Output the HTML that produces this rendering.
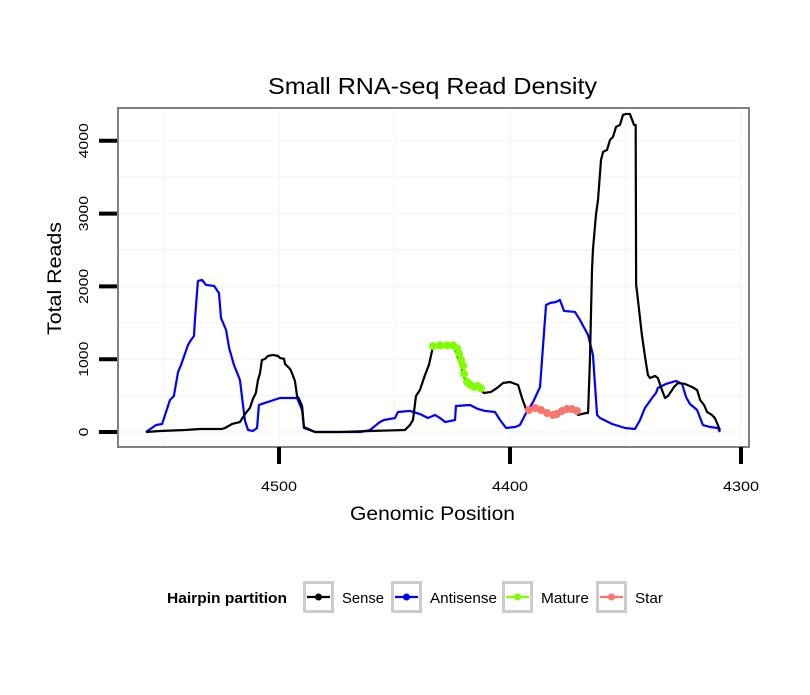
<!DOCTYPE html>
<html><head><meta charset="utf-8"><style>
body{margin:0;background:#fff;}
svg text{font-family:"Liberation Sans",sans-serif;}
</style></head><body>
<svg id="c" width="810" height="690" xmlns="http://www.w3.org/2000/svg">
<rect width="810" height="690" fill="#fff"/>
<text x="268" y="94" font-size="23" textLength="329" lengthAdjust="spacingAndGlyphs">Small RNA-seq Read Density</text>
<g id="grid"></g>
<g id="series"></g>
<rect x="118" y="108" width="631" height="339" fill="none" stroke="#7f7f7f" stroke-width="2"/>
<g id="axes"></g>
<text x="350" y="520" font-size="19" textLength="165" lengthAdjust="spacingAndGlyphs">Genomic Position</text>
<text transform="translate(61,335) rotate(-90)" font-size="19" textLength="113" lengthAdjust="spacingAndGlyphs">Total Reads</text>
<g>
<text x="167" y="603" font-size="15" font-weight="bold" textLength="120" lengthAdjust="spacingAndGlyphs">Hairpin partition</text>
<g id="legend"></g>
</g>
</svg>
<script>
const xTicks=[4500,4400,4300];
const yTicks=[0,1000,2000,3000,4000];
const senseX=[4557.6,4551.5,4540.7,4534.2,4524.7,4523.4,4520.3,4516.9,4514.7,4512.6,4511.3,4510.0,4509.1,4508.2,4507.4,4506.1,4504.8,4502.6,4500.4,4499.6,4497.8,4497.4,4495.2,4494.4,4493.1,4492.2,4491.3,4490.0,4489.2,4484.4,4473.6,4460.6,4445.5,4443.3,4442.0,4440.7,4439.0,4436.8,4435.1,4433.3,4430.3,4424.7,4421.6,4419.0,4415.6,4412.6,4411.3,4408.2,4405.6,4403.0,4400.0,4396.5,4394.8,4392.6,4391.8,4389.1,4386.6,4384.0,4381.4,4379.7,4377.5,4375.3,4373.2,4371.0,4370.6,4367.1,4366.2,4365.4,4364.5,4364.1,4362.8,4361.9,4360.6,4359.7,4358.0,4356.7,4355.4,4354.1,4352.4,4351.1,4349.8,4348.1,4346.3,4345.6,4345.4,4345.0,4342.9,4341.6,4340.3,4339.4,4337.2,4336.0,4334.2,4332.9,4331.6,4329.0,4327.3,4324.2,4321.2,4319.0,4317.7,4316.0,4314.7,4312.6,4311.3,4309.1];
const senseY=[0,14,27,41,41,55,110,137,247,330,453,536,714,811,989,1003,1044,1058,1044,1017,1003,934,866,811,701,495,453,357,69,0,0,14,27,96,165,495,577,783,921,1180,1190,1190,951,673,618,577,536,550,605,673,687,646,467,275,302,330,302,261,234,247,289,316,316,289,234,261,261,989,2226,2501,2982,3188,3738,3848,3875,4013,4054,4191,4218,4355,4369,4369,4218,4218,2020,1923,1333,1044,783,742,770,742,577,467,495,618,673,660,618,577,440,371,275,234,192,27];
const antiX=[4557.6,4553.2,4550.6,4547.2,4545.5,4543.7,4542.4,4539.4,4538.1,4536.8,4536.4,4535.1,4533.3,4531.6,4528.1,4526.0,4525.1,4522.9,4521.6,4519.5,4516.9,4515.6,4514.7,4513.4,4511.3,4509.5,4508.7,4507.4,4499.6,4492.2,4490.0,4489.2,4484.4,4464.9,4460.6,4456.3,4454.5,4449.8,4448.5,4443.3,4439.0,4435.5,4432.5,4430.3,4428.1,4423.8,4423.4,4417.3,4413.9,4410.8,4406.5,4404.3,4401.7,4397.8,4395.7,4393.5,4390.0,4387.0,4384.4,4382.7,4380.1,4378.4,4376.6,4371.9,4369.7,4366.2,4364.1,4362.3,4361.0,4355.8,4350.2,4345.9,4343.7,4341.6,4338.5,4336.8,4336.0,4332.5,4328.1,4325.5,4323.8,4322.1,4319.0,4316.5,4313.4,4310.0,4309.1];
const antiY=[0,96,110,440,495,824,921,1195,1264,1319,1539,2075,2088,2020,2006,1910,1566,1401,1154,921,714,371,151,27,14,55,371,385,467,467,302,55,0,0,27,137,165,192,275,289,247,192,234,192,137,165,357,371,316,289,275,165,55,69,96,234,412,618,1745,1772,1786,1814,1663,1649,1539,1333,1058,234,192,110,55,41,165,330,467,536,605,660,701,660,481,385,302,96,69,55,0];
const matureX=[4433.3,4430.3,4427.3,4424.7,4422.9,4422.1,4421.2,4420.3,4419.9,4418.6,4417.3,4415.6,4413.9,4412.6];
const matureY=[1180,1190,1190,1190,1150,1080,990,910,800,690,650,620,630,600];
const starX=[4391.8,4389.1,4386.6,4384.0,4381.4,4379.7,4377.5,4375.3,4373.2,4371.0];
const starY=[302,330,302,261,234,247,289,316,316,289];
const legendLabels=["Sense","Antisense","Mature","Star"];
const legendColors=["#000000","#0000ff","#7fff00","#f8766d"];

const NS="http://www.w3.org/2000/svg";
function sx(v){return 279+(4500-v)*2.31;}
function sy(v){return 432-v*0.0728;}
function mk(tag,attrs,parent){const e=document.createElementNS(NS,tag);for(const k in attrs)e.setAttribute(k,attrs[k]);parent.appendChild(e);return e;}
const grid=document.getElementById('grid'),axes=document.getElementById('axes'),ser=document.getElementById('series');
[4550,4500,4450,4400,4350,4300].forEach(v=>{const l=mk('line',{x1:sx(v),x2:sx(v),y1:108,y2:447,stroke:'#f8f8f8','stroke-width':2},grid);

});
[0,500,1000,1500,2000,2500,3000,3500,4000].forEach(v=>{const l=mk('line',{x1:118,x2:749,y1:sy(v),y2:sy(v),stroke:'#f8f8f8','stroke-width':2},grid);

});
xTicks.forEach(v=>{const t=mk('line',{x1:sx(v),x2:sx(v),y1:447,y2:464,stroke:'#000','stroke-width':4},axes);


const tx=mk('text',{x:sx(v)-18,y:491,'font-size':14,textLength:36,lengthAdjust:'spacingAndGlyphs'},axes);tx.textContent=v;

});
yTicks.forEach(v=>{const s=String(v);const w=s.length*8.8;
const t=mk('line',{x1:99,x2:117,y1:sy(v),y2:sy(v),stroke:'#000','stroke-width':4},axes);


const tx=mk('text',{transform:`translate(88,${sy(v)+w/2}) rotate(-90)`,'font-size':13,textLength:w,lengthAdjust:'spacingAndGlyphs'},axes);tx.textContent=s;

});
function line(xs,ys,color,name){const p=mk('polyline',{points:xs.map((x,i)=>sx(x)+','+sy(ys[i])).join(' '),fill:'none',stroke:color,'stroke-width':2.2,'stroke-linejoin':'round'},ser);

}
function dots(xs,ys,color,name){const g=mk('g',{},ser);


line(xs,ys,color,name+'-line');
xs.forEach((x,i)=>{const c=mk('circle',{cx:sx(x),cy:sy(ys[i]),r:4,fill:color},g);

});}
line(antiX,antiY,'#0000ff','antisense-line');
line(senseX,senseY,'#000000','sense-line');
dots(matureX,matureY,'#7fff00','mature-series');
dots(starX,starY,'#f8766d','star-series');
const leg=document.getElementById('legend');const bx=[303,391,502,596];const lw=[42,67,48,28];
legendLabels.forEach((lab,i)=>{const g=mk('g',{},leg);


mk('rect',{x:bx[i]+1.5,y:582.5,width:28,height:29,fill:'#fff',stroke:'#cccccc','stroke-width':3},g);
mk('line',{x1:bx[i]+4,x2:bx[i]+27,y1:597,y2:597,stroke:legendColors[i],'stroke-width':2.2},g);
mk('circle',{cx:bx[i]+15.5,cy:597,r:3.5,fill:legendColors[i]},g);
const t=mk('text',{x:bx[i]+39,y:603,'font-size':15,textLength:lw[i],lengthAdjust:'spacingAndGlyphs'},g);t.textContent=lab;});
</script>
</body></html>
